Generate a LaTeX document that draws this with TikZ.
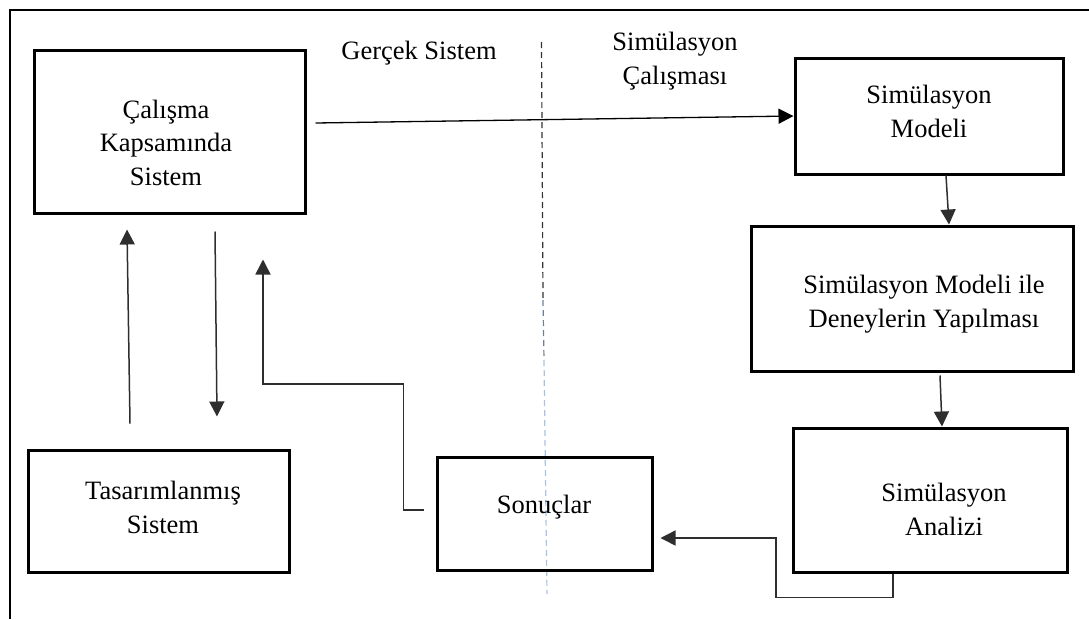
\documentclass[tikz,border=0pt]{standalone}
\usepackage{fontspec}
\setmainfont{Liberation Serif}
\usetikzlibrary{arrows.meta,calc}
\definecolor{conngray}{HTML}{2E2E2E}
\definecolor{divblue}{HTML}{A9C3DE}
\definecolor{divmid}{HTML}{6F8094}

\begin{document}
\begin{tikzpicture}[x=1pt,y=-1pt,
  box/.style={draw=black, line width=3pt, inner sep=0pt},
  % multi-line labels are placed by the baseline of their last line
  lbl/.style={font=\fontsize{26.5}{33.5}\selectfont, align=center, anchor=base, inner sep=0pt},
  conn/.style={draw=conngray, line width=1.5pt},
  arr/.style={conn, -{Triangle[length=15pt,width=15pt]}},
  divider/.style={line width=1.2pt, dash pattern=on 6pt off 4pt},
]
\useasboundingbox (0,0) rectangle (1089,619);

% open frame: top and left edges only
\draw[line width=2pt] (9.5,619) -- (9.5,10) -- (1089,10);

% divider between the real system and the simulation study
\draw[divider, draw=black!80] (541.5,42) -- (543,300);
\draw[divider, draw=divmid] (543,300) -- (544,360);
\draw[divider, draw=divblue] (544,360) -- (547,594);

% boxes
\node[box, minimum width=271pt, minimum height=163pt] (A) at (169.5,131.5) {};
\node[box, minimum width=268pt, minimum height=116pt] (B) at (929,116) {};
\node[box, minimum width=322pt, minimum height=145pt] (C) at (912,298.5) {};
\node[box, minimum width=274pt, minimum height=144pt] (D) at (930,500) {};
\node[box, minimum width=261pt, minimum height=122pt] (E) at (158.5,511) {};
\node[box, minimum width=215pt, minimum height=113pt] (S) at (544.5,513.5) {};

% texts
\node[lbl] (At) at (166,185) {Çalışma\\Kapsamında\\Sistem};
\node[lbl] (Bt) at (929,137) {Simülasyon\\Modeli};
\node[lbl] (Ct) at (924,327) {Simülasyon Modeli ile\\Deneylerin Yapılması};
\node[lbl] (Dt) at (944,535) {Simülasyon\\Analizi};
\node[lbl] (Et) at (163,533) {Tasarımlanmış\\Sistem};
\node[lbl] (St) at (544,513) {Sonuçlar};
\node[lbl] (G) at (419,59) {Gerçek Sistem};
\node[lbl] (SC) at (675,84) {Simülasyon\\Çalışması};

% connectors
\draw[arr, draw=black, line width=1.3pt] ($(A.east)+(9,-8.5)$) -- (B.west);
\draw[arr] ($(B.south)+(17,0)$) -- ($(C.north)+(37,0)$);
\draw[arr] ($(C.south)+(28,3)$) -- ($(D.north)+(12,0)$);
\draw[arr] ($(D.south)+(-37,0)$) -- ++(0,24) -- ++(-117,0) |- ($(S.east)+(7,24.5)$);
\draw[arr] ($(S.west)+(-12,-3.5)$) -- ++(-20,0) -- ++(0,-126) -| ($(A.south)+(93.5,45)$);
\draw[arr] ($(A.south)+(45.5,17)$) -- ($(E.north)+(58.5,-32)$);
\draw[arr] ($(E.north)+(-28.5,-25)$) -- ($(A.south)+(-42.5,15)$);
\end{tikzpicture}
\end{document}
